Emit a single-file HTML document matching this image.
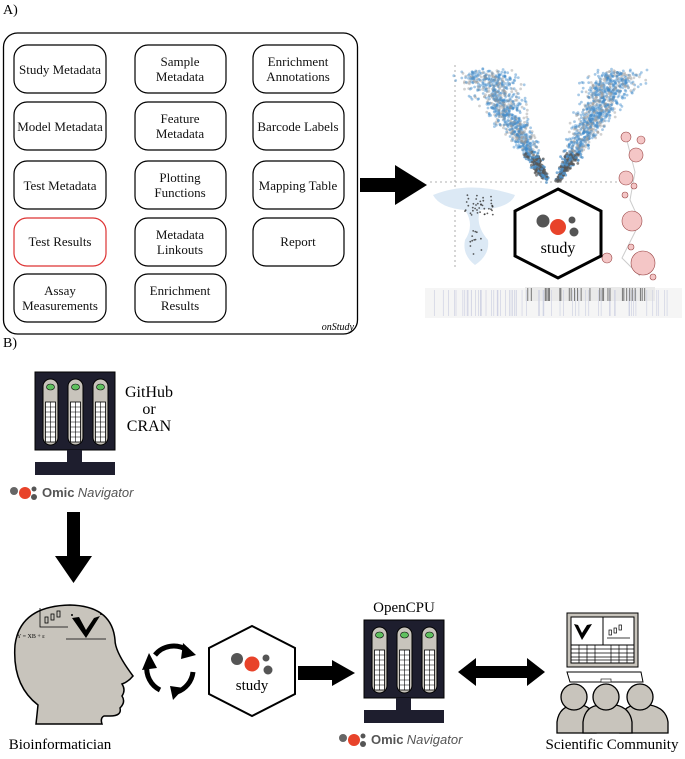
<!DOCTYPE html>
<html><head><meta charset="utf-8"><style>
body{margin:0;background:#fff}
svg{display:block}
text{font-family:"Liberation Serif",serif}
</style></head><body>
<svg id="s" width="685" height="759" viewBox="0 0 685 759" xmlns="http://www.w3.org/2000/svg">
<defs>
<g id="logo">
<circle cx="0" cy="0" r="4" fill="#666"/><circle cx="11" cy="2" r="6" fill="#e8432a"/><circle cx="20" cy="-2" r="2.5" fill="#555"/><circle cx="20" cy="6" r="3" fill="#555"/>
</g>
<g id="server">
<rect x="0" y="0" width="80" height="78" fill="#1e1e2e" stroke="#000"/>
<rect x="32" y="78" width="15" height="12" fill="#1e1e2e"/>
<rect x="0" y="90" width="80" height="13" fill="#1e1e2e"/>
<g id="pill"><rect x="8" y="7" width="15" height="66" rx="7.5" fill="#c8c4bc" stroke="#000"/><ellipse cx="15.5" cy="15" rx="4" ry="3" fill="#5fbf5f" stroke="#000" stroke-width=".6"/>
<rect x="10.5" y="30" width="10" height="40" fill="#fff" stroke="#000" stroke-width=".8"/>
<path d="M15.5 30V70M10.5 35H20.5M10.5 40H20.5M10.5 45H20.5M10.5 50H20.5M10.5 55H20.5M10.5 60H20.5M10.5 65H20.5" stroke="#000" stroke-width=".6"/></g>
<use href="#pill" x="25"/><use href="#pill" x="50"/>
</g>
</defs>
<text x="3" y="14" font-size="14">A)</text>
<rect x="3.5" y="33" width="354" height="301" rx="14" fill="none" stroke="#000" stroke-width="1.3"/>
<g font-size="13" text-anchor="middle" fill="#111" stroke-width="1.2">
<rect x="14" y="45" width="92" height="48" rx="13" fill="none" stroke="#000"/><text x="60" y="74">Study Metadata</text>
<rect x="135" y="45" width="91" height="48" rx="13" fill="none" stroke="#000"/><text x="180" y="66">Sample</text><text x="180" y="81">Metadata</text>
<rect x="253" y="45" width="91" height="48" rx="13" fill="none" stroke="#000"/><text x="298" y="66">Enrichment</text><text x="298" y="81">Annotations</text>
<rect x="14" y="102" width="92" height="48" rx="13" fill="none" stroke="#000"/><text x="60" y="131">Model Metadata</text>
<rect x="135" y="102" width="91" height="48" rx="13" fill="none" stroke="#000"/><text x="180" y="123">Feature</text><text x="180" y="138">Metadata</text>
<rect x="253" y="102" width="91" height="48" rx="13" fill="none" stroke="#000"/><text x="298" y="131">Barcode Labels</text>
<rect x="14" y="161" width="92" height="48" rx="13" fill="none" stroke="#000"/><text x="60" y="190">Test Metadata</text>
<rect x="135" y="161" width="91" height="48" rx="13" fill="none" stroke="#000"/><text x="180" y="182">Plotting</text><text x="180" y="197">Functions</text>
<rect x="253" y="161" width="91" height="48" rx="13" fill="none" stroke="#000"/><text x="298" y="190">Mapping Table</text>
<rect x="14" y="218" width="92" height="48" rx="13" fill="none" stroke="#d33"/><text x="60" y="246">Test Results</text>
<rect x="135" y="218" width="91" height="48" rx="13" fill="none" stroke="#000"/><text x="180" y="239">Metadata</text><text x="180" y="254">Linkouts</text>
<rect x="253" y="218" width="91" height="48" rx="13" fill="none" stroke="#000"/><text x="298" y="246">Report</text>
<rect x="14" y="274" width="92" height="48" rx="13" fill="none" stroke="#000"/><text x="60" y="295">Assay</text><text x="60" y="310">Measurements</text>
<rect x="135" y="274" width="91" height="48" rx="13" fill="none" stroke="#000"/><text x="180" y="295">Enrichment</text><text x="180" y="310">Results</text>
</g>
<text x="354" y="330" font-size="10" font-style="italic" text-anchor="end">onStudy</text>
<path d="M360 178H395V165L427 185L395 205V192H360Z" fill="#000"/>
<g id="plot">
<path d="M455 65V270M430 182H620" stroke="#999" stroke-dasharray="2 3" stroke-width=".8"/>
<path d="M433 195Q470 180 515 195Q510 208 480 210Q475 225 488 240Q490 255 475 265Q462 255 465 240Q475 225 465 210Q440 208 433 195Z" fill="#dce9f5"/>
<rect x="425" y="288" width="257" height="30" fill="#f5f5f5"/>
<rect x="525" y="287" width="130" height="14" fill="#eaeaea"/>
<path d="M626 137L635 172L630 200L640 222L622 258L640 276" stroke="#ccc" fill="none"/>
</g>
<polygon points="558,189 601,211 601,256 558,278 515,256 515,211" fill="#fff" stroke="#000" stroke-width="3"/>
<circle cx="543" cy="221" r="6.5" fill="#555"/><circle cx="558" cy="227" r="8" fill="#e8432a"/><circle cx="572" cy="220" r="3.5" fill="#555"/><circle cx="574" cy="232" r="4.5" fill="#555"/>
<text x="558" y="253" font-size="16" text-anchor="middle">study</text>

<text x="3" y="347" font-size="14">B)</text>
<use href="#server" x="35" y="372"/>
<g font-size="16" text-anchor="middle"><text x="149" y="397">GitHub</text><text x="149" y="414">or</text><text x="149" y="431">CRAN</text></g>
<use href="#logo" x="14" y="491"/>
<text x="42" y="497" font-size="13" fill="#555"><tspan font-weight="bold" style="font-family:'Liberation Sans',sans-serif">Omic</tspan> <tspan font-style="italic" style="font-family:'Liberation Sans',sans-serif">Navigator</tspan></text>
<path d="M67 512H80V556H92L73.5 583L55 556H67Z" fill="#000"/>

<!-- head -->
<path d="M36 724L38 705Q12 685 15 645Q20 606 70 605Q112 606 115 640Q115 652 133 676Q128 682 122 684Q126 690 122 696Q126 702 120 708Q122 716 110 716L104 716Q100 718 102 724Z" fill="#c8c4bc" stroke="#000" stroke-width="1.5"/>
<g stroke="#000" fill="none" stroke-width=".8"><path d="M40 608V627H68"/><rect x="45" y="617" width="3" height="6"/><rect x="51" y="614" width="3" height="6"/><rect x="57" y="611" width="3" height="6"/><path d="M66 639H106"/></g>
<path d="M72 618L86 638L100 616L94 618L86 630L79 617Z" fill="#000"/>
<circle cx="72" cy="615" r="1" fill="#000"/><circle cx="101" cy="614" r="1" fill="#000"/>
<text x="17" y="638" font-size="6">Y = XB + ε</text>
<text x="60" y="749" font-size="15" text-anchor="middle">Bioinformatician</text>
<!-- cycle -->
<g fill="none" stroke="#000" stroke-width="5"><path d="M155 655A24 24 0 0 1 187 650"/><path d="M193 672A24 24 0 0 1 177 692"/><path d="M160 690A24 24 0 0 1 147 665"/></g>
<path d="M183 643L196 655L181 659Z M184 688L173 700L170 686Z M142 670L149 653L157 668Z" fill="#000"/>
<polygon points="252,626 295,648 295,694 252,716 209,694 209,648" fill="#fff" stroke="#000" stroke-width="2"/>
<circle cx="237" cy="659" r="6" fill="#555"/><circle cx="252" cy="664" r="7.5" fill="#e8432a"/><circle cx="266" cy="658" r="3.5" fill="#555"/><circle cx="268" cy="670" r="4.5" fill="#555"/>
<text x="252" y="690" font-size="15" text-anchor="middle">study</text>
<path d="M298 666H332V660L355 673L332 686V680H298Z" fill="#000"/>
<text x="404" y="612" font-size="15" text-anchor="middle">OpenCPU</text>
<use href="#server" x="364" y="620"/>
<use href="#logo" x="343" y="738"/>
<text x="371" y="744" font-size="13" fill="#555"><tspan font-weight="bold" style="font-family:'Liberation Sans',sans-serif">Omic</tspan> <tspan font-style="italic" style="font-family:'Liberation Sans',sans-serif">Navigator</tspan></text>
<path d="M458 672L476 658V666H527V658L545 672L527 686V678H476V686Z" fill="#000"/>
<!-- monitor -->
<rect x="567" y="613" width="71" height="54" fill="#c8c4bc" stroke="#000"/>
<rect x="571" y="617" width="63" height="46" fill="#fff" stroke="#000"/>
<path d="M603 617V645M571 645H634" stroke="#000"/>
<path d="M574 624L582 640L592 624L587 625L582 633L578 625Z" fill="#000"/>
<g stroke="#000" stroke-width=".7" fill="none"><path d="M571 649H634M571 653H634M571 657H634M571 660H634M579 645V663M587 645V663M595 645V663M611 645V663M619 645V663M627 645V663M607 638H630"/>
<rect x="609" y="630" width="2.5" height="5"/><rect x="614" y="628" width="2.5" height="5"/><rect x="619" y="625" width="2.5" height="5"/></g>
<path d="M567 672H641L643 682H570Z" fill="#fff" stroke="#000"/>
<rect x="601" y="679" width="10" height="3" fill="#fff" stroke="#000" stroke-width=".6"/>
<g fill="#c8c4bc" stroke="#000" stroke-width="1.3">
<path d="M557 733V722Q559 706 575 705H582Q594 708 596 722V733Z"/><circle cx="574" cy="697" r="13"/>
<path d="M620 733V722Q622 706 636 705H650Q666 708 668 722V733Z"/><circle cx="640" cy="697" r="13"/>
<path d="M583 733V722Q585 706 600 705H616Q630 708 632 722V733Z"/><circle cx="606" cy="697" r="13"/>
</g>
<text x="612" y="749" font-size="15" text-anchor="middle">Scientific Community</text>
</svg>
<script>
(function(){var s=document.getElementById('plot'),ns='http://www.w3.org/2000/svg';var seed=7;function r(){seed=(seed*16807)%2147483647;return seed/2147483647;}
function g(){return (r()+r()+r()-1.5)/1.5;}
function c(x,y,rad,f,o){var e=document.createElementNS(ns,'circle');e.setAttribute('cx',x.toFixed(1));e.setAttribute('cy',y.toFixed(1));e.setAttribute('r',rad);e.setAttribute('fill',f);e.setAttribute('fill-opacity',o);s.appendChild(e);}
for(var i=0;i<2200;i++){var side=r()<.5?-1:1;var t=Math.pow(r(),0.8);var y=181-t*110+g()*4;var w=4+t*38;var x=552+side*(6+t*62+g()*w);
var col=t<0.25?(r()<.6?'#555':'#4a8fc7'):(r()<.65?'#3d89c9':'#999');c(x,y,1.4,col,t<0.25?.7:.45);}
for(var i=0;i<40;i++)c(465+r()*30,195+r()*20,.9,'#333',.8);
for(var i=0;i<12;i++)c(470+r()*15,230+r()*25,.9,'#333',.8);
var nodes=[[626,137,5],[641,140,4],[636,155,7],[626,178,7],[634,186,3],[625,195,3],[632,221,10],[631,247,3],[607,258,5],[643,263,12],[653,277,3]];
nodes.forEach(function(n){c(n[0],n[1],n[2],'#f4c6c6',1);var e=document.createElementNS(ns,'circle');e.setAttribute('cx',n[0]);e.setAttribute('cy',n[1]);e.setAttribute('r',n[2]);e.setAttribute('fill','none');e.setAttribute('stroke','#944');e.setAttribute('stroke-width','.6');s.appendChild(e);});
for(var i=0;i<60;i++){var x=428+r()*250;var l=document.createElementNS(ns,'line');l.setAttribute('x1',x);l.setAttribute('x2',x);l.setAttribute('y1',290);l.setAttribute('y2',316);l.setAttribute('stroke','#c8cce0');l.setAttribute('stroke-width','.6');s.appendChild(l);}
for(var i=0;i<30;i++){var x=527+r()*125;var l=document.createElementNS(ns,'line');l.setAttribute('x1',x);l.setAttribute('x2',x);l.setAttribute('y1',288);l.setAttribute('y2',301);l.setAttribute('stroke','#777');l.setAttribute('stroke-width','1');s.appendChild(l);}
})();
</script>
</body></html>
